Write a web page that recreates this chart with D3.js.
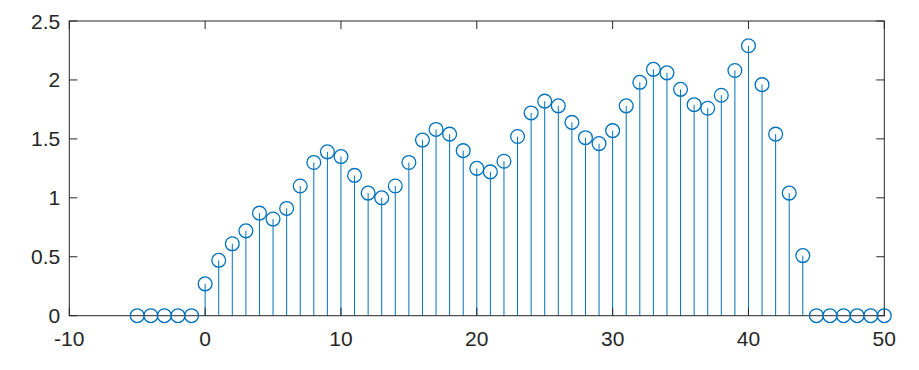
<!DOCTYPE html>
<html><head><meta charset="utf-8">
<script src="https://cdn.jsdelivr.net/npm/d3@7"></script>
<style>body{margin:0;background:#fff;} svg{display:block;}</style>
</head><body>
<svg id="c" width="919" height="370"></svg>
<script>
const xs = d3.range(-5, 51);
const values = [0,0,0,0,0,
  0.27,0.47,0.61,0.72,0.87,0.82,0.91,1.10,1.30,1.39,
  1.35,1.19,1.04,1.00,1.10,1.30,1.49,1.58,1.54,1.40,
  1.25,1.22,1.31,1.52,1.72,1.82,1.78,1.64,1.51,1.46,
  1.57,1.78,1.98,2.09,2.06,1.92,1.79,1.76,1.87,2.08,
  2.29,1.96,1.54,1.04,0.51,
  0,0,0,0,0,0];
const xTicks = [-10,0,10,20,30,40,50];
const yTicks = [0,0.5,1,1.5,2,2.5];

const svg = d3.select("#c");
const L=69.3, R=884.3, T=21, B=315.7;
const x = d3.scaleLinear().domain([-10,50]).range([L,R]);
const y = d3.scaleLinear().domain([0,2.5]).range([B,T]);
const data = xs.map((d,i)=>({x:d,y:values[i]}));
const blue = "#0072BD", axc = "#262626";
const tl = 8;

const g = svg.append("g");
g.selectAll("line.stem").data(data).enter().append("line")
  .attr("x1",d=>x(d.x)).attr("x2",d=>x(d.x))
  .attr("y1",y(0)).attr("y2",d=>y(d.y))
  .attr("stroke",blue).attr("stroke-width",1);

const font = "'Liberation Sans', Arial, Helvetica, sans-serif";
const fs = 21;
const ax = svg.append("g");
ax.append("rect").attr("x",L).attr("y",T).attr("width",R-L).attr("height",B-T)
  .attr("fill","none").attr("stroke",axc).attr("stroke-width",1);
xTicks.forEach(t=>{
  ax.append("line").attr("x1",x(t)).attr("x2",x(t)).attr("y1",B).attr("y2",B-tl).attr("stroke",axc);
  ax.append("line").attr("x1",x(t)).attr("x2",x(t)).attr("y1",T).attr("y2",T+tl).attr("stroke",axc);
  ax.append("text").attr("x",x(t)).attr("y",B+30).attr("text-anchor","middle")
    .style("font-family",font).style("font-size",fs+"px").attr("fill",axc).text(t);
});
yTicks.forEach(t=>{
  ax.append("line").attr("x1",L).attr("x2",L+tl).attr("y1",y(t)).attr("y2",y(t)).attr("stroke",axc);
  ax.append("line").attr("x1",R).attr("x2",R-tl).attr("y1",y(t)).attr("y2",y(t)).attr("stroke",axc);
  ax.append("text").attr("x",L-9).attr("y",y(t)+7.5).attr("text-anchor","end")
    .style("font-family",font).style("font-size",fs+"px").attr("fill",axc).text(t);
});

svg.append("g").selectAll("circle").data(data).enter().append("circle")
  .attr("cx",d=>x(d.x)).attr("cy",d=>y(d.y)).attr("r",6.9)
  .attr("fill","none").attr("stroke",blue).attr("stroke-width",1.3);
</script>
</body></html>
